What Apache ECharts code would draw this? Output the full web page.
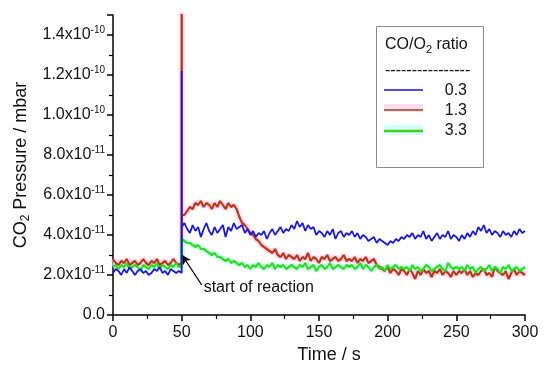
<!DOCTYPE html>
<html>
<head>
<meta charset="utf-8">
<script src="https://cdn.jsdelivr.net/npm/echarts@6/dist/echarts.min.js"></script>
<style>html,body{margin:0;padding:0;background:#fff}#c{width:550px;height:373px}</style>
</head>
<body>
<div id="c"></div>
<script>
// Time in s
const times = [0,2,4,6,8,10,12,14,16,18,20,22,24,26,28,30,32,34,36,38,40,42,44,46,48,
50,50,50,
52,54,56,58,60,62,64,66,68,70,72,74,76,78,80,82,84,86,88,90,
92,94,96,98,100,102,104,106,108,110,112,114,116,118,120,122,124,126,128,130,
132,134,136,138,140,142,144,146,148,150,152,154,156,158,160,162,164,166,168,170,
172,174,176,178,180,182,184,186,188,190,192,194,196,198,200,202,204,206,208,210,
212,214,216,218,220,222,224,226,228,230,232,234,236,238,240,242,244,246,248,250,
252,254,256,258,260,262,264,266,268,270,272,274,276,278,280,282,284,286,288,290,292,294,296,298,300];

// CO2 pressure in units of 1e-11 mbar
const ratio03 = [2.1,2.3,2.2,2.0,2.3,2.1,2.4,2.2,2.0,2.2,2.3,2.1,2.2,2.0,2.1,2.3,2.2,2.4,2.1,2.2,2.0,2.3,2.2,2.1,2.2,
2.1,12.2,4.4,
4.6,4.3,4.1,4.5,4.2,4.4,3.9,4.3,4.6,4.2,4.0,4.4,4.1,4.3,4.5,3.9,4.4,4.2,4.6,4.3,
4.4,4.5,4.1,4.3,4.0,4.2,3.9,4.1,4.0,4.2,3.8,4.1,4.3,4.0,4.2,4.4,4.1,4.3,4.2,4.5,
4.3,4.7,4.4,4.6,4.2,4.5,4.3,4.4,4.0,4.2,4.1,3.9,4.2,4.0,4.3,3.8,4.1,4.2,3.9,4.1,
4.0,4.2,3.9,4.1,3.8,4.0,3.9,3.7,3.8,3.9,3.6,3.8,3.7,3.6,3.5,3.7,3.6,3.8,3.7,3.9,
3.8,4.0,3.9,4.1,3.8,4.0,3.9,4.2,3.8,4.0,3.7,3.9,4.1,3.8,4.0,3.9,4.2,3.8,4.0,3.9,
3.7,4.0,3.8,4.1,3.9,4.2,4.0,4.4,4.2,4.5,4.1,4.3,4.0,4.2,4.1,3.9,4.2,4.0,4.1,3.9,4.2,4.0,4.3,4.1,4.2];

const ratio13 = [2.8,2.6,2.5,2.7,2.6,2.8,2.5,2.6,2.7,2.5,2.6,2.8,2.6,2.5,2.7,2.6,2.8,2.5,2.6,2.7,2.5,2.6,2.8,2.6,2.5,
2.6,16,5.0,
5.0,5.2,5.4,5.3,5.6,5.5,5.7,5.4,5.6,5.5,5.3,5.6,5.4,5.7,5.5,5.3,5.6,5.4,5.5,5.3,
4.9,4.6,4.5,4.3,4.1,4.0,3.8,3.7,3.5,3.4,3.3,3.2,3.1,3.3,3.0,2.9,3.1,2.8,3.0,2.9,
2.8,3.0,2.7,2.9,2.8,3.1,2.7,2.9,2.8,2.6,2.9,2.8,3.0,2.7,2.8,2.9,2.7,2.8,3.0,2.7,
2.8,2.7,2.9,2.6,2.8,2.7,2.9,2.6,2.7,2.8,2.5,2.4,2.3,2.2,2.4,2.1,2.3,2.2,2.0,2.3,
2.2,2.0,2.3,2.1,1.8,2.2,2.0,2.3,2.1,2.2,1.9,2.2,2.1,2.3,2.0,2.2,2.1,1.9,2.2,2.0,
2.2,2.1,2.3,2.0,2.2,1.9,2.1,2.0,2.2,2.3,2.0,2.1,1.9,2.4,2.2,2.1,2.0,2.2,1.8,2.1,2.3,2.0,2.2,2.1,2.0];

const ratio33 = [2.4,2.5,2.3,2.5,2.4,2.6,2.3,2.4,2.5,2.4,2.2,2.5,2.4,2.3,2.5,2.4,2.6,2.3,2.5,2.4,2.3,2.5,2.4,2.6,2.4,
2.4,3.8,3.7,
3.7,3.6,3.6,3.5,3.4,3.5,3.3,3.3,3.2,3.1,3.0,3.1,2.9,2.9,2.8,2.7,2.8,2.6,2.7,2.6,
2.5,2.6,2.4,2.5,2.3,2.5,2.4,2.6,2.4,2.3,2.5,2.4,2.6,2.3,2.5,2.4,2.5,2.3,2.4,2.5,
2.4,2.3,2.5,2.4,2.6,2.3,2.4,2.5,2.2,2.4,2.5,2.3,2.4,2.6,2.3,2.4,2.5,2.4,2.3,2.5,
2.4,2.5,2.3,2.4,2.6,2.3,2.5,2.4,2.2,2.4,2.5,2.3,2.4,2.2,2.5,2.3,2.4,2.5,2.3,2.4,
2.3,2.4,2.2,2.5,2.3,2.4,2.2,2.3,2.5,2.4,2.2,2.3,2.4,2.5,2.3,2.2,2.6,2.4,2.3,2.4,
2.3,2.4,2.2,2.5,2.3,2.4,2.1,2.3,2.4,2.2,2.3,2.5,2.2,2.4,2.3,2.1,2.4,2.3,2.5,2.2,2.3,2.4,2.2,2.3,2.4];

const legendLabels = ['0.3','1.3','3.3'];
const yTickLabels = {0:'0.0',2:'2.0x10{s|-11}',4:'4.0x10{s|-11}',6:'6.0x10{s|-11}',8:'8.0x10{s|-11}',
  10:'1.0x10{s|-10}',12:'1.2x10{s|-10}',14:'1.4x10{s|-10}'};

const FONT = '"Liberation Sans", Arial, sans-serif';
const pairs = vals => times.map((t, i) => [t, vals[i]]);

const chart = echarts.init(document.getElementById('c'), null, {renderer: 'canvas'});

const axisCommon = {
  axisLine: {show: true, lineStyle: {color: '#000', width: 1.5}},
  axisTick: {show: true, inside: false, length: 6, lineStyle: {color: '#000', width: 1.5}},
  minorTick: {show: true, splitNumber: 2, length: 4, lineStyle: {color: '#000', width: 1.2}},
  splitLine: {show: false},
  minorSplitLine: {show: false}
};

const option = {
  animation: false,
  backgroundColor: '#fff',
  grid: {left: 113, right: 25, top: 15, bottom: 58},
  xAxis: Object.assign({
    type: 'value', min: 0, max: 300, interval: 50,
    axisLabel: {fontSize: 16, color: '#111', margin: 10, fontFamily: FONT},
    name: 'Time / s', nameLocation: 'middle', nameGap: 31,
    nameTextStyle: {fontSize: 18, color: '#111', fontFamily: FONT, padding: [0, 0, 0, 20]}
  }, axisCommon),
  yAxis: Object.assign({
    type: 'value', min: 0, max: 15, interval: 2,
    axisLabel: {
      fontSize: 16, color: '#111', margin: 8, fontFamily: FONT, showMaxLabel: false,
      formatter: v => yTickLabels[v] !== undefined ? yTickLabels[v] : '',
      rich: {s: {fontSize: 10, fontFamily: FONT, color: '#111', padding: [0, 0, 9, 0]}}
    },
    name: '{a|CO}{b|2}{a| Pressure / mbar}', nameLocation: 'middle', nameGap: 80,
    nameTextStyle: {
      color: '#111', fontFamily: FONT,
      rich: {
        a: {fontSize: 18, fontFamily: FONT, color: '#111'},
        b: {fontSize: 12, fontFamily: FONT, color: '#111', padding: [10, 0, 0, 0]}
      }
    }
  }, axisCommon),
  series: [
    {type: 'line', name: 'halo13', data: pairs(ratio13), showSymbol: false, silent: true,
      lineStyle: {color: '#ffc4e6', width: 6, opacity: 0.6}, z: 1},
    {type: 'line', name: 'halo33', data: pairs(ratio33), showSymbol: false, silent: true,
      lineStyle: {color: '#b4fff2', width: 6, opacity: 0.6}, z: 1},
    {type: 'line', name: legendLabels[1], data: pairs(ratio13), showSymbol: false,
      lineStyle: {color: '#e52a17', width: 2.2}, z: 2},
    {type: 'line', name: legendLabels[1] + 'b', data: pairs(ratio13), showSymbol: false,
      lineStyle: {color: '#8a4a1c', width: 1}, z: 3},
    {type: 'line', name: legendLabels[2], data: pairs(ratio33), showSymbol: false,
      lineStyle: {color: '#2edc1e', width: 2.2}, z: 4},
    {type: 'line', name: legendLabels[0], data: pairs(ratio03), showSymbol: false,
      lineStyle: {color: '#1818d8', width: 1.8}, z: 5,
      markLine: {
        silent: true, symbol: ['none', 'arrow'], symbolSize: [7, 9],
        lineStyle: {color: '#000', width: 1.3, type: 'solid'},
        label: {show: false},
        data: [[{coord: [64.6, 1.5]}, {coord: [50.3, 3.0]}]]
      },
      markPoint: {
        silent: true, symbol: 'circle', symbolSize: 0,
        data: [{coord: [66, 1.35],
          label: {show: true, position: 'right', distance: 0, formatter: 'start of reaction',
            fontSize: 16, color: '#111', fontFamily: FONT}}]
      }
    }
  ],
  graphic: [
    {type: 'rect', shape: {x: 376.5, y: 26.5, width: 107, height: 141},
      style: {fill: '#fff', stroke: '#8a8a8a', lineWidth: 1}, z: 10},
    {type: 'text', x: 385, y: 45, z: 11,
      style: {text: '{a|CO/O}{b|2}{a| ratio}', verticalAlign: 'middle',
        rich: {a: {fontSize: 16, fontFamily: FONT, fill: '#111'},
               b: {fontSize: 11, fontFamily: FONT, fill: '#111', padding: [9, 0, 0, 0]}}}},
    {type: 'text', x: 385, y: 71, z: 11,
      style: {text: '----------------', fontSize: 16, fontFamily: FONT, fill: '#111', verticalAlign: 'middle'}},
    {type: 'line', shape: {x1: 384, y1: 90, x2: 423, y2: 90}, style: {stroke: '#1818c8', lineWidth: 1.5}, z: 11},
    {type: 'rect', shape: {x: 384, y: 104, width: 39, height: 8}, style: {fill: '#ffdcef'}, z: 11},
    {type: 'line', shape: {x1: 384, y1: 110, x2: 423, y2: 110}, style: {stroke: '#8a4a1c', lineWidth: 1.5}, z: 12},
    {type: 'rect', shape: {x: 384, y: 125, width: 39, height: 10}, style: {fill: '#d4fff8'}, z: 11},
    {type: 'line', shape: {x1: 384, y1: 131, x2: 423, y2: 131}, style: {stroke: '#44cc22', lineWidth: 2.5}, z: 12},
    {type: 'text', x: 467, y: 91, z: 11,
      style: {text: legendLabels[0], fontSize: 16, fontFamily: FONT, fill: '#111', align: 'right', verticalAlign: 'middle'}},
    {type: 'text', x: 467, y: 111, z: 11,
      style: {text: legendLabels[1], fontSize: 16, fontFamily: FONT, fill: '#111', align: 'right', verticalAlign: 'middle'}},
    {type: 'text', x: 467, y: 131, z: 11,
      style: {text: legendLabels[2], fontSize: 16, fontFamily: FONT, fill: '#111', align: 'right', verticalAlign: 'middle'}}
  ]
};
chart.setOption(option);
</script>
</body>
</html>
